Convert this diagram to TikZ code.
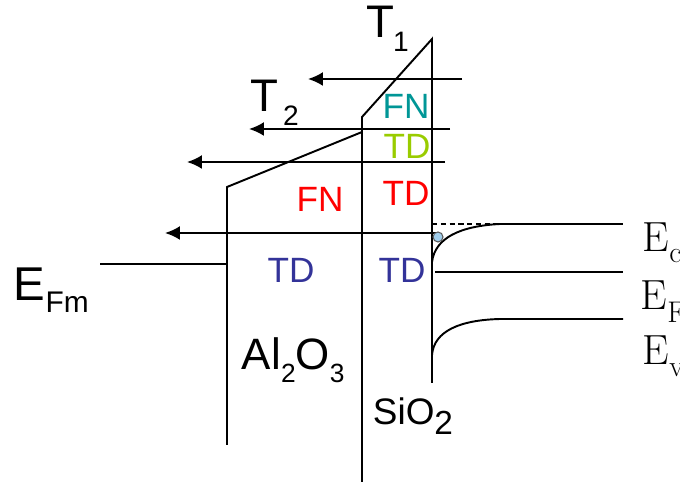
\documentclass[tikz,border=0pt]{standalone}
\usepackage{fontspec}
\usepackage{xcolor}
\usetikzlibrary{arrows.meta}
\newfontfamily\arialfont{Liberation Sans}
\definecolor{fnteal}{RGB}{0,150,150}
\definecolor{tdgreen}{RGB}{153,204,0}
\definecolor{tdblue}{RGB}{51,51,153}
\definecolor{elblue}{RGB}{160,205,235}

\begin{document}
\begin{tikzpicture}[x=0.02cm,y=-0.02cm,>={Latex[length=3mm,width=2.8mm]},line width=1.1pt,
  lbl/.style={font=\arialfont\fontsize{20}{20}\selectfont,inner sep=0pt},
  tlbl/.style={font=\arialfont\fontsize{26}{26}\selectfont,inner sep=0pt},
  tsub/.style={font=\arialfont\fontsize{16}{16}\selectfont,inner sep=0pt},
  elbl/.style={font=\fontsize{24}{24}\selectfont,inner sep=0pt,anchor=base west}]
\clip (0,0) rectangle (680,482);
% oxide stack
\coordinate (alBot) at (227,445);
\coordinate (alTop) at (227,187);
\coordinate (alEnd) at (362,132);
\coordinate (midBot) at (362,482);
\coordinate (midTop) at (362,117);
\coordinate (sioTop) at (432,39);
\coordinate (sioBot) at (432,383);
\draw (alBot) -- (alTop) -- (alEnd);
\draw (midBot) -- (midTop) -- (sioTop) -- (sioBot);
% metal Fermi level
\coordinate (efmL) at (100,264);
\coordinate (efmR) at (227,264);
\draw (efmL) -- (efmR);
% tunnelling arrows
\coordinate (a1s) at (462,79);  \coordinate (a1e) at (308,79);
\coordinate (a2s) at (450,129); \coordinate (a2e) at (249,129);
\coordinate (a3s) at (445,162); \coordinate (a3e) at (187,162);
\coordinate (a4s) at (436,233); \coordinate (a4e) at (165,233);
\draw[->] (a1s) -- (a1e);
\draw[->] (a2s) -- (a2e);
\draw[->] (a3s) -- (a3e);
\draw[->] (a4s) -- (a4e);
% silicon bands
\coordinate (ecW) at (432,224);
\coordinate (ecK) at (500,224);
\coordinate (ecE) at (623,224);
\coordinate (ecB) at (432,262);
\coordinate (efL) at (435,272);
\coordinate (efE) at (623,272);
\coordinate (evB) at (432,355);
\coordinate (evK) at (500,319);
\coordinate (evE) at (623,319);
\draw[dash pattern=on 3pt off 2pt] (ecW) -- (ecK);
\draw (ecK) -- (ecE);
\draw (ecB) .. controls (435,238) and (460,226) .. (ecK);
\draw (efL) -- (efE);
\draw (evB) .. controls (434,331) and (460,320) .. (evK) -- (evE);
\filldraw[fill=elblue,draw=gray!70!black,line width=0.6pt] (438,237) circle[radius=0.1cm];
% labels
\node[tlbl] (t1) at (380,21.5) {T};
\node[tsub] (t1sub) at (401,42) {1};
\node[tlbl] (t2) at (264,96) {T};
\node[tsub] (t2sub) at (291,116) {2};
\node[lbl,fnteal] (fnsio) at (406,106) {FN};
\node[lbl,tdgreen] (tdsio) at (407,146) {TD};
\node[lbl,red] (fnal) at (320,199) {FN};
\node[lbl,red] (tdsiored) at (406,193) {TD};
\node[lbl,tdblue] (tdal) at (291,270) {TD};
\node[lbl,tdblue] (tdsioblue) at (402,270) {TD};
\node[inner sep=0pt,anchor=base west,font=\arialfont\fontsize{27}{27}\selectfont] (efm) at (13,301)
  {E\raisebox{-0.24cm}{\fontsize{17}{17}\selectfont Fm}};
\node[inner sep=0pt,anchor=base west,font=\arialfont\fontsize{25}{25}\selectfont] (al) at (241,370)
  {Al\raisebox{-0.26cm}{\fontsize{15}{15}\selectfont 2}O\raisebox{-0.26cm}{\fontsize{15}{15}\selectfont 3}};
\node[inner sep=0pt,anchor=base west,font=\arialfont\fontsize{21}{21}\selectfont] (sio) at (372,425)
  {SiO\raisebox{-0.2cm}{\fontsize{19}{19}\selectfont 2}};
\node[elbl] (ec) at (642,252) {E\raisebox{-0.22cm}{\fontsize{17}{17}\selectfont c}};
\node[elbl] (ef) at (640,310) {E\raisebox{-0.26cm}{\fontsize{17}{17}\selectfont F}};
\node[elbl] (ev) at (642,365) {E\raisebox{-0.24cm}{\fontsize{17}{17}\selectfont v}};
\end{tikzpicture}
\end{document}
